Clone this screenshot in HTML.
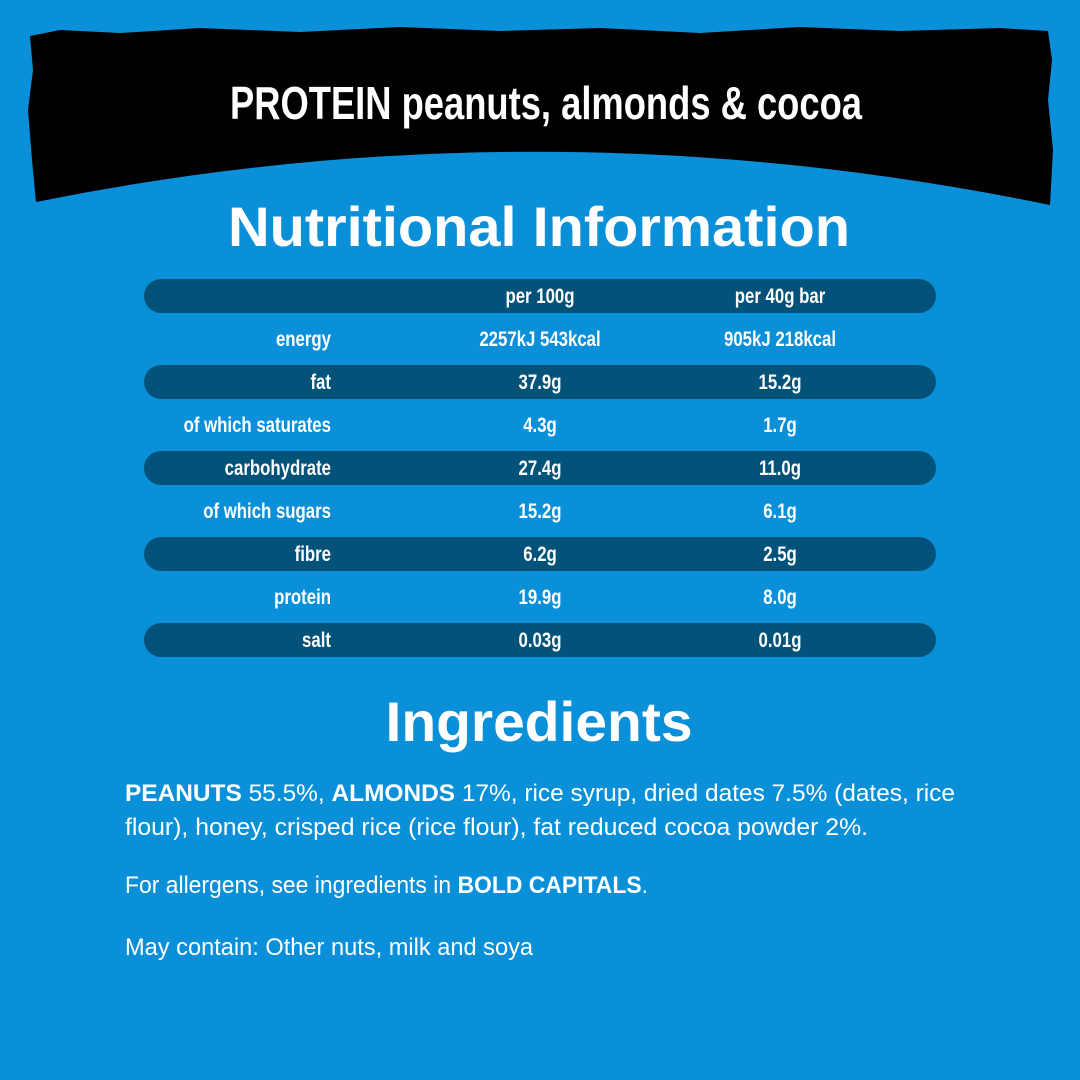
<!DOCTYPE html>
<html><head><meta charset="utf-8"><style>
html,body{margin:0;padding:0;background:#0a90d8;}
svg{display:block}
.t{font-family:"Liberation Sans Narrow","Liberation Sans",sans-serif;font-weight:bold;fill:#fff;font-size:21px}
.b{font-family:"Liberation Sans",sans-serif;fill:#fff;font-size:24px}
</style></head><body>
<svg width="1080" height="1080" viewBox="0 0 1080 1080" xmlns="http://www.w3.org/2000/svg">
<rect width="1080" height="1080" fill="#0a90d8"/>
<path d="M30 36 L60 30 L120 33 L200 28 L300 32 L400 27 L500 31 L600 28 L700 33 L800 27 L900 31 L1000 28 L1048 31 L1052 60 L1048 100 L1053 150 L1050 205 Q540 100 36 202 L32 160 L28 110 L33 70 Z" fill="#000"/>
<text x="546" y="119" text-anchor="middle" class="t" style="font-size:46px" textLength="632" lengthAdjust="spacingAndGlyphs">PROTEIN peanuts, almonds &amp; cocoa</text>
<text x="539" y="246" text-anchor="middle" font-family="Liberation Sans,sans-serif" font-weight="bold" font-size="56" fill="#fff" textLength="622" lengthAdjust="spacingAndGlyphs">Nutritional Information</text>
<g fill="#03527a">
<rect x="144" y="279" width="792" height="34" rx="17"/>
<rect x="144" y="365" width="792" height="34" rx="17"/>
<rect x="144" y="451" width="792" height="34" rx="17"/>
<rect x="144" y="537" width="792" height="34" rx="17"/>
<rect x="144" y="623" width="792" height="34" rx="17"/>
</g>
<g class="t" transform="scale(0.8,1)">
<text x="675" y="303" text-anchor="middle">per 100g</text><text x="975" y="303" text-anchor="middle">per 40g bar</text>
<text x="413.75" y="346" text-anchor="end">energy</text><text x="675" y="346" text-anchor="middle">2257kJ 543kcal</text><text x="975" y="346" text-anchor="middle">905kJ 218kcal</text>
<text x="413.75" y="389" text-anchor="end">fat</text><text x="675" y="389" text-anchor="middle">37.9g</text><text x="975" y="389" text-anchor="middle">15.2g</text>
<text x="413.75" y="432" text-anchor="end">of which saturates</text><text x="675" y="432" text-anchor="middle">4.3g</text><text x="975" y="432" text-anchor="middle">1.7g</text>
<text x="413.75" y="475" text-anchor="end">carbohydrate</text><text x="675" y="475" text-anchor="middle">27.4g</text><text x="975" y="475" text-anchor="middle">11.0g</text>
<text x="413.75" y="518" text-anchor="end">of which sugars</text><text x="675" y="518" text-anchor="middle">15.2g</text><text x="975" y="518" text-anchor="middle">6.1g</text>
<text x="413.75" y="561" text-anchor="end">fibre</text><text x="675" y="561" text-anchor="middle">6.2g</text><text x="975" y="561" text-anchor="middle">2.5g</text>
<text x="413.75" y="604" text-anchor="end">protein</text><text x="675" y="604" text-anchor="middle">19.9g</text><text x="975" y="604" text-anchor="middle">8.0g</text>
<text x="413.75" y="647" text-anchor="end">salt</text><text x="675" y="647" text-anchor="middle">0.03g</text><text x="975" y="647" text-anchor="middle">0.01g</text>
</g>
<text x="539" y="741" text-anchor="middle" font-family="Liberation Sans,sans-serif" font-weight="bold" font-size="56" fill="#fff" textLength="307" lengthAdjust="spacingAndGlyphs">Ingredients</text>
<text x="125" y="801" class="b" textLength="830" lengthAdjust="spacingAndGlyphs"><tspan font-weight="bold">PEANUTS</tspan> 55.5%, <tspan font-weight="bold">ALMONDS</tspan> 17%, rice syrup, dried dates 7.5% (dates, rice</text>
<text x="125" y="835" class="b" textLength="743" lengthAdjust="spacingAndGlyphs">flour), honey, crisped rice (rice flour), fat reduced cocoa powder 2%.</text>
<text x="125" y="893" class="b" textLength="523" lengthAdjust="spacingAndGlyphs">For allergens, see ingredients in <tspan font-weight="bold">BOLD CAPITALS</tspan>.</text>
<text x="125" y="955" class="b" textLength="408" lengthAdjust="spacingAndGlyphs">May contain: Other nuts, milk and soya</text>
</svg>
</body></html>
